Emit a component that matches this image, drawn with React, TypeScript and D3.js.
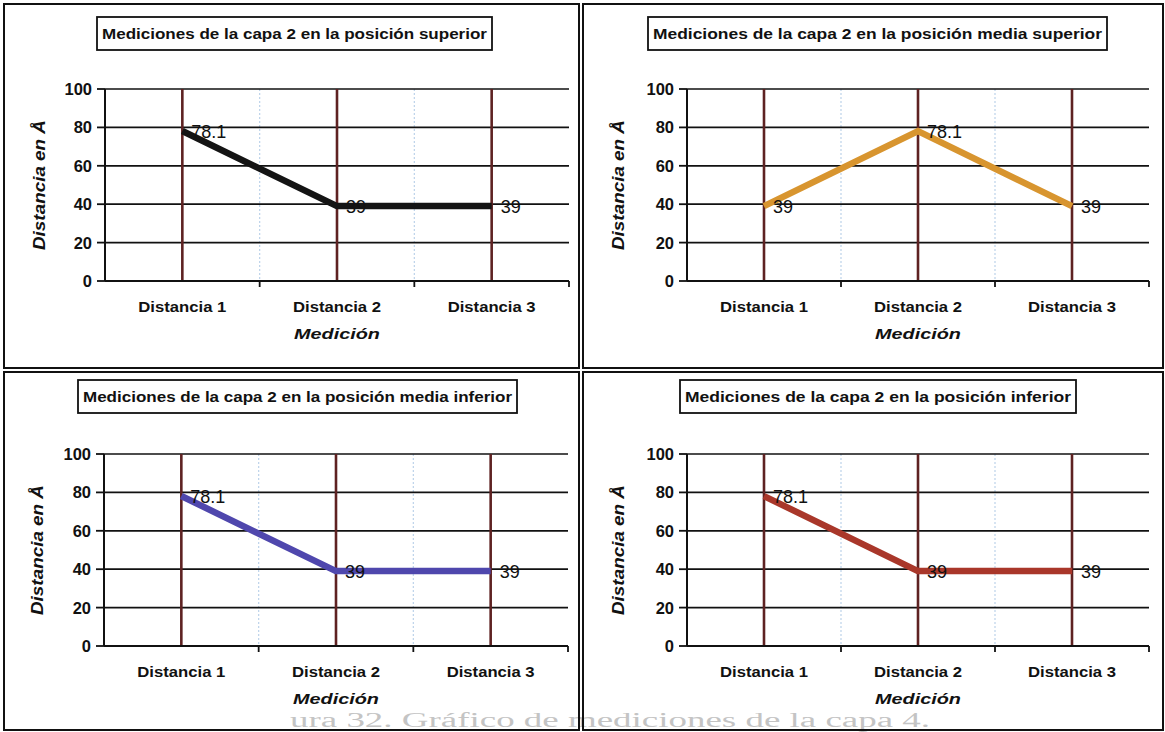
import React from "react";
import * as d3 from "d3";

// Categories along the x axis
const categories = ["Distancia 1", "Distancia 2", "Distancia 3"];
const yTicks = [0, 20, 40, 60, 80, 100];

// Series values per position in layer 2 (Å)
const superior = [78.1, 39, 39];
const mediaSuperior = [39, 78.1, 39];
const mediaInferior = [78.1, 39, 39];
const inferior = [78.1, 39, 39];

const titles = [
  "Mediciones de la capa 2 en la posición superior",
  "Mediciones de la capa 2 en la posición media superior",
  "Mediciones de la capa 2 en la posición media inferior",
  "Mediciones de la capa 2 en la posición inferior",
];

type PanelCfg = {
  title: string;
  values: number[];
  color: string;
  box: [number, number, number, number]; // panel frame x, y, w, h
  plot: [number, number, number, number]; // left, right, top, bottom
  titleBox: [number, number, number, number]; // x, y, w, h
  yTitleX: number;
};

const panels: PanelCfg[] = [
  {
    title: titles[0],
    values: superior,
    color: "#141414",
    box: [4, 4, 575, 364],
    plot: [105, 569, 89, 281],
    titleBox: [97, 17, 395, 33],
    yTitleX: 41,
  },
  {
    title: titles[1],
    values: mediaSuperior,
    color: "#d8952f",
    box: [583, 4, 580, 364],
    plot: [687, 1149, 89, 281],
    titleBox: [648, 17, 459, 33],
    yTitleX: 620,
  },
  {
    title: titles[2],
    values: mediaInferior,
    color: "#4f47ad",
    box: [4, 372, 575, 358],
    plot: [104, 568, 454, 646],
    titleBox: [78, 380, 439, 33],
    yTitleX: 39,
  },
  {
    title: titles[3],
    values: inferior,
    color: "#a9372a",
    box: [583, 372, 580, 358],
    plot: [687, 1149, 454, 646],
    titleBox: [680, 380, 396, 33],
    yTitleX: 620,
  },
];

const FONT = "Arial, 'Liberation Sans', Helvetica, sans-serif";

function Panel({ cfg }: { cfg: PanelCfg }) {
  const [left, right, top, bottom] = cfg.plot;
  const x = d3.scaleBand<string>().domain(categories).range([left, right]);
  const y = d3.scaleLinear().domain([0, 100]).range([bottom, top]);
  const cx = (c: string) => (x(c) ?? 0) + x.bandwidth() / 2;
  const pts: [number, number][] = cfg.values.map((v, i) => [cx(categories[i]), y(v)]);
  const line = d3.line();
  const [tx, ty, tw, th] = cfg.titleBox;
  const boundaries = categories.map((c) => (x(c) ?? 0) + x.bandwidth());

  return (
    <g>
      <rect
        x={cfg.box[0]}
        y={cfg.box[1]}
        width={cfg.box[2]}
        height={cfg.box[3]}
        fill="none"
        stroke="#111"
        strokeWidth={2}
      />
      {/* title box */}
      <rect x={tx} y={ty} width={tw} height={th} fill="#fff" stroke="#111" strokeWidth={1.8} />
      <text
        x={tx + tw / 2}
        y={ty + th / 2 + 5.5}
        textAnchor="middle"
        fontFamily={FONT}
        fontWeight="bold"
        fontSize={15}
        fill="#111"
        textLength={tw - 10}
        lengthAdjust="spacingAndGlyphs"
      >
        {cfg.title}
      </text>

      {/* light separators between categories */}
      {boundaries.slice(0, -1).map((bx, i) => (
        <line
          key={"sep" + i}
          x1={bx}
          x2={bx}
          y1={top}
          y2={bottom}
          stroke="#bcd3ea"
          strokeWidth={1.2}
          strokeDasharray="2 2"
        />
      ))}

      {/* horizontal gridlines */}
      {yTicks.slice(1).map((t) => (
        <line key={"g" + t} x1={left} x2={right} y1={y(t)} y2={y(t)} stroke="#111" strokeWidth={1.7} />
      ))}

      {/* vertical category lines */}
      {categories.map((c) => (
        <line key={"v" + c} x1={cx(c)} x2={cx(c)} y1={top} y2={bottom} stroke="#5e2222" strokeWidth={2.6} />
      ))}

      {/* axes */}
      <line x1={left} x2={left} y1={top} y2={bottom} stroke="#111" strokeWidth={2} />
      <line x1={left} x2={right} y1={bottom} y2={bottom} stroke="#111" strokeWidth={2} />
      {yTicks.map((t) => (
        <g key={"yt" + t}>
          <line x1={left - 8} x2={left} y1={y(t)} y2={y(t)} stroke="#111" strokeWidth={1.8} />
          <text
            x={left - 13}
            y={y(t) + 6}
            textAnchor="end"
            fontFamily={FONT}
            fontWeight="bold"
            fontSize={16.5}
            fill="#111"
          >
            {t}
          </text>
        </g>
      ))}
      {boundaries.map((bx, i) => (
        <line key={"xt" + i} x1={bx} x2={bx} y1={bottom} y2={bottom + 6} stroke="#111" strokeWidth={1.8} />
      ))}
      {categories.map((c) => (
        <text
          key={"xl" + c}
          x={cx(c)}
          y={bottom + 31}
          textAnchor="middle"
          fontFamily={FONT}
          fontWeight="bold"
          fontSize={15}
          fill="#111"
          textLength={88}
          lengthAdjust="spacingAndGlyphs"
        >
          {c}
        </text>
      ))}

      {/* axis titles */}
      <text
        x={(left + right) / 2}
        y={bottom + 58}
        textAnchor="middle"
        fontFamily={FONT}
        fontWeight="bold"
        fontStyle="italic"
        fontSize={15.5}
        fill="#111"
        textLength={86}
        lengthAdjust="spacingAndGlyphs"
      >
        Medición
      </text>
      <text
        transform={`translate(${cfg.yTitleX},${(top + bottom) / 2}) rotate(-90)`}
        textAnchor="middle"
        dominantBaseline="middle"
        fontFamily={FONT}
        fontWeight="bold"
        fontStyle="italic"
        fontSize={16}
        fill="#111"
        textLength={130}
        lengthAdjust="spacingAndGlyphs"
      >
        Distancia en Å
      </text>

      {/* series */}
      <path
        d={line(pts) ?? ""}
        fill="none"
        stroke={cfg.color}
        strokeWidth={6.5}
        strokeLinejoin="round"
        strokeLinecap="butt"
      />
      {pts.map(([px, py], i) => (
        <text
          key={"dl" + i}
          x={px + 9}
          y={py + 7}
          fontFamily={FONT}
          fontSize={18}
          fill="#111"
        >
          {cfg.values[i]}
        </text>
      ))}
    </g>
  );
}

export default function App() {
  return (
    <svg
      width={1165}
      height={732}
      style={{ position: "absolute", left: 0, top: 0, background: "#fff" }}
    >
      <rect x={0} y={0} width={1165} height={732} fill="#fff" />
      {/* caption bleeding through from the page */}
      <text
        x={290}
        y={727}
        fontFamily="'Liberation Serif', 'Times New Roman', serif"
        fontSize={20}
        fill="#c4c4c4"
        textLength={640}
        lengthAdjust="spacingAndGlyphs"
      >
        ura 32. Gráfico de mediciones de la capa 4.
      </text>
      {panels.map((p, i) => (
        <Panel key={i} cfg={p} />
      ))}
    </svg>
  );
}
